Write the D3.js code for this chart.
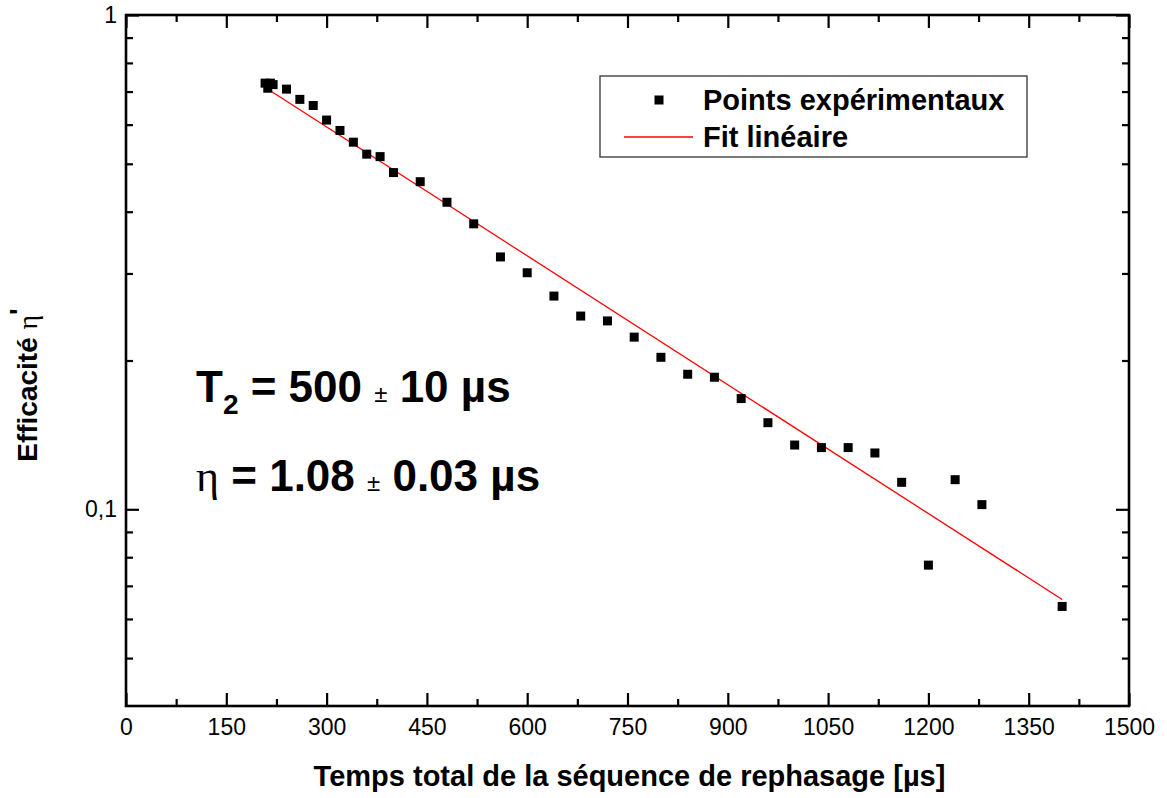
<!DOCTYPE html>
<html>
<head>
<meta charset="utf-8">
<script src="https://cdn.jsdelivr.net/npm/d3@7"></script>
<style>
  body { margin: 0; background: #fff; }
  svg { display: block; }
  text { font-family: "Liberation Sans", Arial, sans-serif; }
</style>
</head>
<body>
<svg id="chart" width="1167" height="798"></svg>
<script>
// ---- data ----
const timeUs = [208, 212, 216, 220, 240, 260, 280, 300, 320, 340, 360, 380, 400, 440, 480, 520,
  560, 600, 640, 680, 720, 760, 800, 840, 880, 920, 960, 1000, 1040, 1080, 1120, 1160, 1200,
  1240, 1280, 1400];
const efficiency = [0.728, 0.711, 0.728, 0.723, 0.708, 0.675, 0.656, 0.613, 0.584, 0.553, 0.523,
  0.517, 0.480, 0.460, 0.418, 0.378, 0.324, 0.301, 0.270, 0.246, 0.2405, 0.223, 0.203, 0.1876,
  0.185, 0.1675, 0.1497, 0.1349, 0.1333, 0.1333, 0.130, 0.1134, 0.0771, 0.1148, 0.1022, 0.0636];
const fitTime = [210, 1400];
const fitEfficiency = [0.711, 0.0657];
const xMajorTicks = [0, 150, 300, 450, 600, 750, 900, 1050, 1200, 1350, 1500];
const xMinorTicks = [75, 225, 375, 525, 675, 825, 975, 1125, 1275, 1425];
const yMajorTicks = [1, 0.1];
const yMajorLabels = ["1", "0,1"];
const yMinorTicks = [0.9, 0.8, 0.7, 0.6, 0.5, 0.4, 0.3, 0.2, 0.09, 0.08, 0.07, 0.06, 0.05];
const legendLabels = ["Points expérimentaux", "Fit linéaire"];

// ---- layout ----
const L = 126, R = 1129, T = 15, B = 706;
const svg = d3.select("#chart");
const x = d3.scaleLinear().domain([0, 1500]).range([L, R]);
const y = d3.scaleLog().domain([0.04, 1]).range([B, T]);

const majorLen = 13, minorLen = 7;
const tickFont = 23;

function styleAxis(g) {
  g.select(".domain").remove();
  g.selectAll("line").attr("stroke", "#000").attr("stroke-width", 2.2);
  g.selectAll("text").attr("font-size", tickFont).attr("fill", "#000")
    .attr("font-family", "Liberation Sans, Arial, sans-serif");
}

// bottom
svg.append("g").attr("transform", `translate(0,${B})`)
  .call(d3.axisBottom(x).tickValues(xMajorTicks).tickSize(-majorLen).tickPadding(13)
    .tickFormat(d3.format("d")))
  .call(styleAxis);
svg.append("g").attr("transform", `translate(0,${B})`)
  .call(d3.axisBottom(x).tickValues(xMinorTicks).tickSize(-minorLen).tickFormat(""))
  .call(styleAxis);
// top
svg.append("g").attr("transform", `translate(0,${T})`)
  .call(d3.axisTop(x).tickValues(xMajorTicks).tickSize(-majorLen).tickFormat(""))
  .call(styleAxis);
svg.append("g").attr("transform", `translate(0,${T})`)
  .call(d3.axisTop(x).tickValues(xMinorTicks).tickSize(-minorLen).tickFormat(""))
  .call(styleAxis);
// left
svg.append("g").attr("transform", `translate(${L},0)`)
  .call(d3.axisLeft(y).tickValues(yMajorTicks).tickSize(-majorLen).tickPadding(9)
    .tickFormat((d, i) => yMajorLabels[i]))
  .call(styleAxis);
svg.append("g").attr("transform", `translate(${L},0)`)
  .call(d3.axisLeft(y).tickValues(yMinorTicks).tickSize(-minorLen).tickFormat(""))
  .call(styleAxis);
// right
svg.append("g").attr("transform", `translate(${R},0)`)
  .call(d3.axisRight(y).tickValues(yMajorTicks).tickSize(-majorLen).tickFormat(""))
  .call(styleAxis);
svg.append("g").attr("transform", `translate(${R},0)`)
  .call(d3.axisRight(y).tickValues(yMinorTicks).tickSize(-minorLen).tickFormat(""))
  .call(styleAxis);

// frame
svg.append("rect").attr("x", L).attr("y", T).attr("width", R - L).attr("height", B - T)
  .attr("fill", "none").attr("stroke", "#000").attr("stroke-width", 2.6);

// fit line
const fitData = fitTime.map((t, i) => [t, fitEfficiency[i]]);
svg.append("path").datum(fitData)
  .attr("d", d3.line().x(d => x(d[0])).y(d => y(d[1])))
  .attr("fill", "none").attr("stroke", "#ff0000").attr("stroke-width", 1.3);

// points
const ms = 9;
svg.append("g").selectAll("rect").data(timeUs.map((t, i) => [t, efficiency[i]]))
  .join("rect")
  .attr("x", d => x(d[0]) - ms / 2).attr("y", d => y(d[1]) - ms / 2)
  .attr("width", ms).attr("height", ms).attr("fill", "#000");

// legend
svg.append("rect").attr("x", 600).attr("y", 76).attr("width", 427).attr("height", 81)
  .attr("fill", "#fff").attr("stroke", "#333").attr("stroke-width", 1.3);
svg.append("rect").attr("x", 659 - 4.5).attr("y", 100 - 4.5).attr("width", 9).attr("height", 9)
  .attr("fill", "#000");
svg.append("line").attr("x1", 624).attr("x2", 693).attr("y1", 137).attr("y2", 137)
  .attr("stroke", "#ff0000").attr("stroke-width", 1.3);
svg.append("text").attr("x", 703).attr("y", 110).attr("font-size", 29).attr("font-weight", "bold")
  .text(legendLabels[0]);
svg.append("text").attr("x", 703).attr("y", 147).attr("font-size", 29).attr("font-weight", "bold")
  .text(legendLabels[1]);

// axis titles
svg.append("text").attr("x", (L + R) / 2 + 2).attr("y", 786).attr("text-anchor", "middle")
  .attr("font-size", 29).attr("font-weight", "bold")
  .text("Temps total de la séquence de rephasage [µs]");

const yt = svg.append("text").attr("transform", "translate(37,385) rotate(-90)")
  .attr("text-anchor", "middle").attr("font-size", 28).attr("font-weight", "bold");
yt.append("tspan").text("Efficacité  ");
yt.append("tspan").attr("font-weight", "normal").attr("font-family", "Liberation Serif, serif")
  .text("η");
yt.append("tspan").attr("dy", -8).text("'");

// annotations
const a1 = svg.append("text").attr("x", 196).attr("y", 402).attr("font-size", 44)
  .attr("font-weight", "bold");
a1.append("tspan").text("T");
a1.append("tspan").attr("font-size", 28).attr("dy", 12).text("2");
a1.append("tspan").attr("dy", -12).text(" = 500 ");
a1.append("tspan").attr("font-size", 24).attr("font-weight", "normal").text("±");
a1.append("tspan").text(" 10 µs");

const a2 = svg.append("text").attr("x", 196).attr("y", 491).attr("font-size", 44)
  .attr("font-weight", "bold");
a2.append("tspan").attr("font-weight", "normal").attr("font-family", "Liberation Serif, serif")
  .text("η");
a2.append("tspan").text(" = 1.08 ");
a2.append("tspan").attr("font-size", 24).attr("font-weight", "normal").text("±");
a2.append("tspan").text(" 0.03 µs");
</script>
</body>
</html>
